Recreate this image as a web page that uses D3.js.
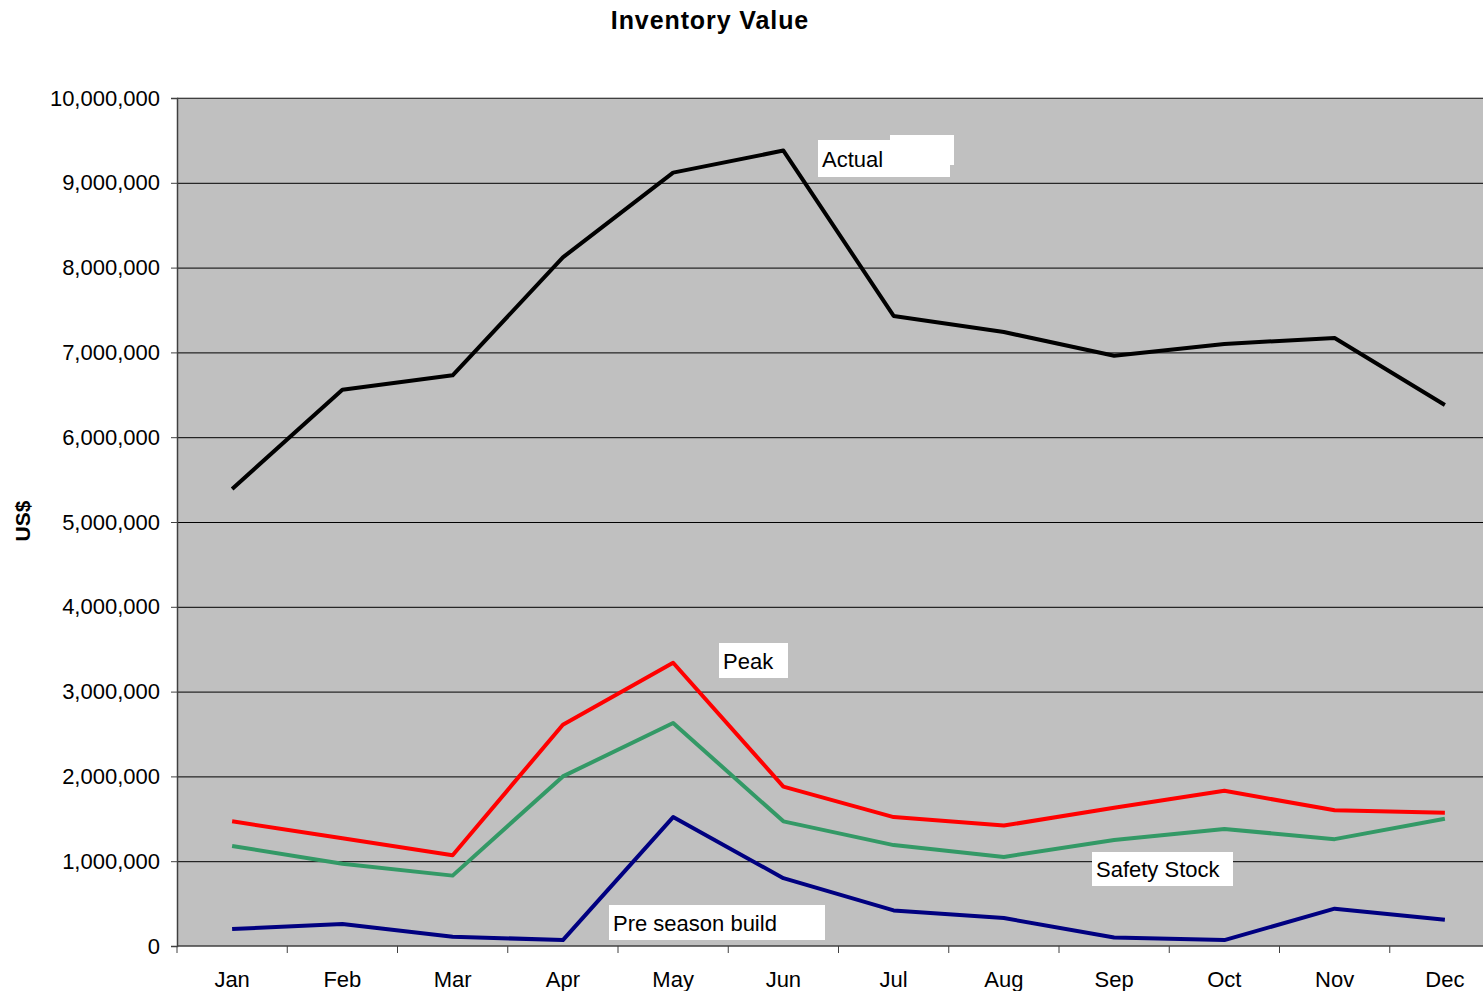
<!DOCTYPE html>
<html>
<head>
<meta charset="utf-8">
<script src="https://cdn.jsdelivr.net/npm/d3@7"></script>
<style>
  body { margin: 0; background: #fff; }
  svg { display: block; font-family: "Liberation Sans", Arial, sans-serif; }
  .grid line { stroke: #000; stroke-width: 1; }
  .grid path { display: none; }
</style>
</head>
<body>
<div id="chart"></div>
<script>
// chart data
var months = ["Jan","Feb","Mar","Apr","May","Jun","Jul","Aug","Sep","Oct","Nov","Dec"];
var actual = [5390000, 6560000, 6730000, 8120000, 9120000, 9380000, 7430000, 7240000, 6960000, 7100000, 7170000, 6380000];
var peak = [1470000, 1270000, 1070000, 2610000, 3340000, 1880000, 1520000, 1420000, 1630000, 1830000, 1600000, 1570000];
var safetyStock = [1180000, 970000, 830000, 2000000, 2630000, 1470000, 1190000, 1050000, 1250000, 1380000, 1260000, 1500000];
var preSeason = [200000, 260000, 110000, 70000, 1520000, 800000, 420000, 330000, 100000, 70000, 440000, 310000];
var yTicks = [0, 1000000, 2000000, 3000000, 4000000, 5000000, 6000000, 7000000, 8000000, 9000000, 10000000];

var W = 1483, H = 991;
var margin = {top: 98, right: -17, bottom: 45, left: 177};
var width = W - margin.left - margin.right,
    height = H - margin.top - margin.bottom;

var svg = d3.select("#chart").append("svg")
  .attr("width", W)
  .attr("height", H);

var g = svg.append("g")
  .attr("transform", "translate(" + margin.left + "," + margin.top + ")");

var x = d3.scaleBand().domain(months).range([0, width]).padding(0);
var y = d3.scaleLinear().domain([0, 10000000]).range([height, 0]);

// plot background
g.append("rect")
  .attr("width", width)
  .attr("height", height)
  .attr("fill", "#c0c0c0");

// gridlines
g.append("g")
  .attr("class", "grid")
  .call(d3.axisLeft(y).tickValues(yTicks.slice(1)).tickSize(-width).tickFormat(""));

// plot border (top)
g.append("line").attr("x1", 0).attr("x2", width).attr("y1", 0).attr("y2", 0)
  .attr("stroke", "#808080").attr("stroke-width", 1);

// y axis
var yAxis = g.append("g")
  .call(d3.axisLeft(y).tickValues(yTicks).tickSize(6).tickPadding(11).tickFormat(d3.format(",")));
yAxis.select(".domain").attr("stroke", "#404040").attr("stroke-width", 1.5);
yAxis.selectAll(".tick line").attr("stroke", "#404040");
yAxis.selectAll("text").attr("font-size", "22px").attr("fill", "#000")
  .attr("font-family", "Liberation Sans, Arial, sans-serif");

// x axis: ticks at category boundaries
var bounds = months.map(function(m){ return x(m); }).concat([width]);
var xAxisG = g.append("g").attr("transform", "translate(0," + height + ")");
xAxisG.append("line").attr("x1", 0).attr("x2", width)
  .attr("stroke", "#404040").attr("stroke-width", 1.5);
xAxisG.selectAll(".btick").data(bounds).enter().append("line")
  .attr("x1", function(d){ return d; }).attr("x2", function(d){ return d; })
  .attr("y1", 0).attr("y2", 7)
  .attr("stroke", "#404040");
xAxisG.selectAll(".mlabel").data(months).enter().append("text")
  .attr("x", function(d){ return x(d) + x.bandwidth() / 2; })
  .attr("y", 41)
  .attr("text-anchor", "middle")
  .attr("font-size", "22px")
  .text(function(d){ return d; });

// series lines
var series = [
  {name: "Actual", values: actual, color: "#000000"},
  {name: "Peak", values: peak, color: "#ff0000"},
  {name: "Safety Stock", values: safetyStock, color: "#339966"},
  {name: "Pre season build", values: preSeason, color: "#000080"}
];

var line = d3.line()
  .x(function(d, i){ return x(months[i]) + x.bandwidth() / 2; })
  .y(function(d){ return y(d); });

g.selectAll(".series").data(series).enter().append("path")
  .attr("class", "series")
  .attr("d", function(s){ return line(s.values); })
  .attr("fill", "none")
  .attr("stroke", function(s){ return s.color; })
  .attr("stroke-width", 4)
  .attr("stroke-linejoin", "round");

// series labels in white boxes
function label(text, bx, by, bw, bh) {
  svg.append("rect").attr("x", bx).attr("y", by).attr("width", bw).attr("height", bh).attr("fill", "#fff");
  svg.append("text").attr("x", bx + 4).attr("y", by + bh / 2 + 8)
    .attr("font-size", "22px").text(text);
}
svg.append("rect").attr("x", 890).attr("y", 135).attr("width", 64).attr("height", 30).attr("fill", "#fff");
label("Actual", 818, 140, 132, 37);
label("Peak", 719, 643, 69, 35);
label("Safety Stock", 1092, 852, 141, 34);
label("Pre season build", 609, 905, 216, 35);

// title
svg.append("text")
  .attr("x", 710).attr("y", 29)
  .attr("text-anchor", "middle")
  .attr("font-size", "25px")
  .attr("font-weight", "bold")
  .attr("letter-spacing", "0.9px")
  .text("Inventory Value");

// y axis title
svg.append("text")
  .attr("transform", "translate(30," + 521 + ") rotate(-90)")
  .attr("text-anchor", "middle")
  .attr("font-size", "21px")
  .attr("font-weight", "bold")
  .text("US$");
</script>
</body>
</html>
